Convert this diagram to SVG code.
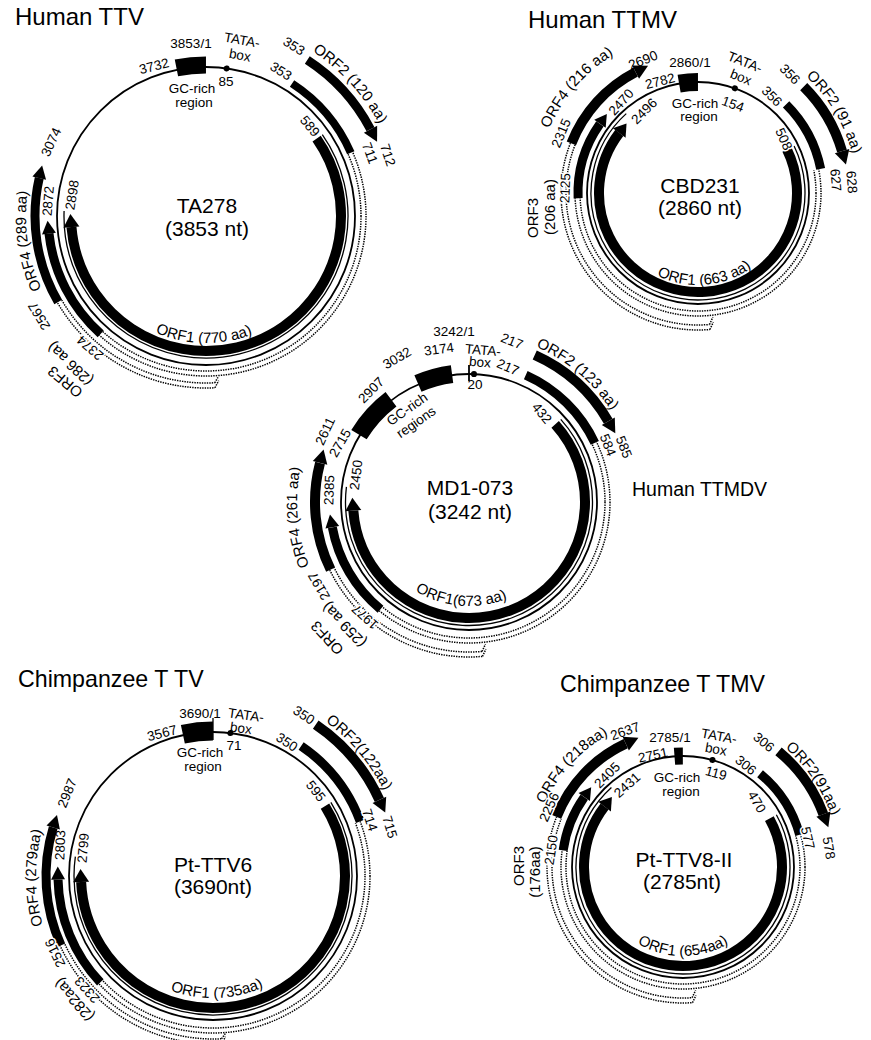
<svg xmlns="http://www.w3.org/2000/svg" width="871" height="1040" viewBox="0 0 871 1040">
<style>
text{font-family:"Liberation Sans",Arial,Helvetica,sans-serif;fill:#000}
.n{font-size:13.5px;text-anchor:middle}
.o{font-size:15px;text-anchor:middle}
.c{font-size:21px;text-anchor:middle}
.ti{font-size:24px}
.h{stroke:#fff;stroke-width:3;paint-order:stroke}
.k{fill:none;stroke:#000}
.gn{stroke-width:1.8}
.th{stroke-width:1.3}
.dt{stroke-width:1.5;stroke-dasharray:1.4 1.1}
.mk{fill:none;stroke:#fff;stroke-width:3.4}
</style>
<defs>
<path id="cw196" d="M0,196 A196,196 0 1 1 0,-196 A196,196 0 1 1 0,196"/>
<path id="cw180" d="M0,180 A180,180 0 1 1 0,-180 A180,180 0 1 1 0,180"/>
<path id="ccw127" d="M0,-127 A127,127 0 1 0 0,127 A127,127 0 1 0 0,-127"/>
<path id="cw159" d="M0,159 A159,159 0 1 1 0,-159 A159,159 0 1 1 0,159"/>
<path id="cw162" d="M0,162 A162,162 0 1 1 0,-162 A162,162 0 1 1 0,162"/>
<path id="ccw92" d="M0,-92 A92,92 0 1 0 0,92 A92,92 0 1 0 0,-92"/>
<path id="cw169" d="M0,169 A169,169 0 1 1 0,-169 A169,169 0 1 1 0,169"/>
<path id="cw172" d="M0,172 A172,172 0 1 1 0,-172 A172,172 0 1 1 0,172"/>
<path id="ccw104" d="M0,-104 A104,104 0 1 0 0,104 A104,104 0 1 0 0,-104"/>
<path id="cw191" d="M0,191 A191,191 0 1 1 0,-191 A191,191 0 1 1 0,191"/>
<path id="cw177" d="M0,177 A177,177 0 1 1 0,-177 A177,177 0 1 1 0,177"/>
<path id="ccw122" d="M0,-122 A122,122 0 1 0 0,122 A122,122 0 1 0 0,-122"/>
<path id="cw157" d="M0,157 A157,157 0 1 1 0,-157 A157,157 0 1 1 0,157"/>
<path id="cw152" d="M0,152 A152,152 0 1 1 0,-152 A152,152 0 1 1 0,152"/>
<path id="ccw89" d="M0,-89 A89,89 0 1 0 0,89 A89,89 0 1 0 0,-89"/>
<mask id="m1" maskUnits="userSpaceOnUse" x="-300" y="-300" width="600" height="600">
<circle class="mk" r="155" pathLength="360" stroke-dasharray="155.4 999" transform="rotate(-23.6)"/>
<circle class="mk" r="160" pathLength="360" stroke-dasharray="155.4 999" transform="rotate(-23.6)"/>
<circle class="mk" r="167" pathLength="360" stroke-dasharray="62.8 999" transform="rotate(87)"/>
<circle class="mk" r="172" pathLength="360" stroke-dasharray="62.8 999" transform="rotate(87)"/>
</mask>
<mask id="m2" maskUnits="userSpaceOnUse" x="-300" y="-300" width="600" height="600">
<circle class="mk" r="118" pathLength="360" stroke-dasharray="188.56 999" transform="rotate(-11.08)"/>
<circle class="mk" r="123" pathLength="360" stroke-dasharray="188.56 999" transform="rotate(-11.08)"/>
<circle class="mk" r="132" pathLength="360" stroke-dasharray="116.4 999" transform="rotate(85)"/>
<circle class="mk" r="137" pathLength="360" stroke-dasharray="116.4 999" transform="rotate(85)"/>
</mask>
<mask id="m3" maskUnits="userSpaceOnUse" x="-300" y="-300" width="600" height="600">
<circle class="mk" r="136" pathLength="360" stroke-dasharray="154.68 999" transform="rotate(-25.15)"/>
<circle class="mk" r="141" pathLength="360" stroke-dasharray="154.68 999" transform="rotate(-25.15)"/>
<circle class="mk" r="150" pathLength="360" stroke-dasharray="68.96 999" transform="rotate(85)"/>
<circle class="mk" r="155" pathLength="360" stroke-dasharray="68.96 999" transform="rotate(85)"/>
</mask>
<mask id="m4" maskUnits="userSpaceOnUse" x="-300" y="-300" width="600" height="600">
<circle class="mk" r="152" pathLength="360" stroke-dasharray="156.97 999" transform="rotate(-20.34)"/>
<circle class="mk" r="157" pathLength="360" stroke-dasharray="156.97 999" transform="rotate(-20.34)"/>
<circle class="mk" r="163" pathLength="360" stroke-dasharray="68.46 999" transform="rotate(87)"/>
<circle class="mk" r="168" pathLength="360" stroke-dasharray="68.46 999" transform="rotate(87)"/>
</mask>
<mask id="m5" maskUnits="userSpaceOnUse" x="-300" y="-300" width="600" height="600">
<circle class="mk" r="117" pathLength="360" stroke-dasharray="203.34 999" transform="rotate(-15.42)"/>
<circle class="mk" r="122" pathLength="360" stroke-dasharray="203.34 999" transform="rotate(-15.42)"/>
<circle class="mk" r="131" pathLength="360" stroke-dasharray="115.62 999" transform="rotate(86)"/>
<circle class="mk" r="136" pathLength="360" stroke-dasharray="115.62 999" transform="rotate(86)"/>
</mask>
</defs>
<rect width="871" height="1040" fill="#fff"/>

<!-- Diagram 1: Human TTV -->
<g id="human-ttv">
<g transform="translate(206,216)">
<circle class="k gn" r="149"/>
<circle class="k" r="151" stroke-width="17" pathLength="360" stroke-dasharray="11.3 999" transform="rotate(258.7)"/>
<circle r="3" cy="-149" transform="rotate(7.94)"/>
<circle class="k" r="135" stroke-width="10" pathLength="360" stroke-dasharray="210.3 999" transform="rotate(-34.97)"/>
<polygon points="0,-143 13,-135 0,-127" transform="rotate(265.3)"/>
<circle class="k th" r="142" pathLength="360" stroke-dasharray="217 999" transform="rotate(-35)"/>
<circle class="k" r="158" stroke-width="8" pathLength="360" stroke-dasharray="33.4 999" transform="rotate(-57)"/>
<circle class="k" r="186" stroke-width="9" pathLength="360" stroke-dasharray="29.2 999" transform="rotate(-57)"/>
<polygon points="0,-193.5 14,-186 0,-178.5" transform="rotate(62.2)"/>
<circle class="k" r="158" stroke-width="9" pathLength="360" stroke-dasharray="41.8 999" transform="rotate(131.8)"/>
<polygon points="0,-165 13,-158 0,-151" transform="rotate(263.6)"/>
<circle class="k" r="171" stroke-width="9" pathLength="360" stroke-dasharray="43 999" transform="rotate(149.8)"/>
<polygon points="0,-178 13,-171 0,-164" transform="rotate(282.8)"/>
<g mask="url(#m1)">
<circle class="k dt" r="155"/><circle class="k dt" r="160"/><circle class="k dt" r="167"/><circle class="k dt" r="172"/>
</g>
<path class="k dt" d="M0,-172 L-4,-165 M0,-167 L-4,-161" transform="rotate(177)"/>
<text class="o" transform="rotate(47.5)"><textPath href="#cw196" startOffset="50%">ORF2 (120 aa)</textPath></text>
<text class="o" transform="rotate(262)"><textPath href="#cw180" startOffset="50%">ORF4 (289 aa)</textPath></text>
<text class="o" transform="rotate(1)"><textPath href="#ccw127" startOffset="50%">ORF1 (770 aa)</textPath></text>
</g>
<text class="ti" x="15" y="25">Human TTV</text>
<text class="n" x="191" y="48">3853/1</text>
<text class="n" transform="translate(242,40) rotate(10)" dy=".35em">TATA-</text>
<text class="n" transform="translate(240,55) rotate(10)" dy=".35em">box</text>
<text class="n" x="226" y="86">85</text>
<text class="n" transform="translate(154,66) rotate(-14)" dy=".35em">3732</text>
<text class="n" x="192" y="93">GC-rich</text>
<text class="n" x="194" y="107">region</text>
<text class="n" transform="translate(294,46) rotate(32)" dy=".35em">353</text>
<text class="n" transform="translate(281,71) rotate(32)" dy=".35em">353</text>
<text class="n" transform="translate(310,126) rotate(50)" dy=".35em">589</text>
<text class="n h" transform="translate(370,153) rotate(70)" dy=".35em">711</text>
<text class="n" transform="translate(388,155) rotate(72)" dy=".35em">712</text>
<text class="n" transform="translate(51,142) rotate(-65)" dy=".35em">3074</text>
<text class="n" transform="translate(48,201) rotate(-85)" dy=".35em">2872</text>
<text class="n" transform="translate(72,195) rotate(-81)" dy=".35em">2898</text>
<text class="n h" transform="translate(39,316) rotate(239)" dy=".35em">2567</text>
<text class="n h" transform="translate(90,348) rotate(221)" dy=".35em">2374</text>
<text class="o" transform="translate(70,364) rotate(223)" dy=".35em">(286 aa)</text>
<text class="o" transform="translate(65,382) rotate(220)" dy=".35em">ORF3</text>
<text class="c" x="207" y="213">TA278</text>
<text class="c" x="207" y="236">(3853 nt)</text>
</g>

<!-- Diagram 2: Human TTMV -->
<g id="human-ttmv">
<g transform="translate(698,193)">
<circle class="k gn" r="111"/>
<circle class="k" r="111" stroke-width="18" pathLength="360" stroke-dasharray="9.8 999" transform="rotate(260.2)"/>
<circle r="3" cy="-111" transform="rotate(19.38)"/>
<circle class="k" r="99" stroke-width="10" pathLength="360" stroke-dasharray="243.4 999" transform="rotate(-26.06)"/>
<polygon points="0,-107 12,-99 0,-91" transform="rotate(307.3)"/>
<circle class="k th" r="107" pathLength="360" stroke-dasharray="254 999" transform="rotate(-26.1)"/>
<circle class="k" r="125" stroke-width="9" pathLength="360" stroke-dasharray="34.1 999" transform="rotate(-45.19)"/>
<circle class="k" r="150" stroke-width="10" pathLength="360" stroke-dasharray="29 999" transform="rotate(-45.19)"/>
<polygon points="0,-157.5 14,-150 0,-142.5" transform="rotate(73.8)"/>
<circle class="k" r="120" stroke-width="9" pathLength="360" stroke-dasharray="37.7 999" transform="rotate(177.48)"/>
<polygon points="0,-127 12,-120 0,-113" transform="rotate(305.2)"/>
<circle class="k" r="136" stroke-width="10" pathLength="360" stroke-dasharray="41.3 999" transform="rotate(201.4)"/>
<polygon points="0,-143.5 14,-136 0,-128.5" transform="rotate(332.7)"/>
<g mask="url(#m2)">
<circle class="k dt" r="118"/><circle class="k dt" r="123"/><circle class="k dt" r="132"/><circle class="k dt" r="137"/>
</g>
<path class="k dt" d="M0,-137 L-4,-130 M0,-132 L-4,-125" transform="rotate(175)"/>
<text class="o" transform="rotate(59.3)"><textPath href="#cw159" startOffset="50%">ORF2 (91 aa)</textPath></text>
<text class="o" transform="rotate(311)"><textPath href="#cw162" startOffset="50%">ORF4 (216 aa)</textPath></text>
<text class="o" transform="rotate(-4.5)"><textPath href="#ccw92" startOffset="50%">ORF1 (663 aa)</textPath></text>
</g>
<text class="ti" x="528" y="28">Human TTMV</text>
<text class="n" x="690" y="67">2860/1</text>
<text class="n" transform="translate(745,62) rotate(22)" dy=".35em">TATA-</text>
<text class="n" transform="translate(741,77) rotate(22)" dy=".35em">box</text>
<text class="n" transform="translate(733,104) rotate(20)" dy=".35em">154</text>
<text class="n" transform="translate(660,81) rotate(-14)" dy=".35em">2782</text>
<text class="n" x="695" y="108">GC-rich</text>
<text class="n" x="699" y="121">region</text>
<text class="n" transform="translate(790,74) rotate(45)" dy=".35em">356</text>
<text class="n" transform="translate(772,96) rotate(45)" dy=".35em">356</text>
<text class="n h" transform="translate(784,139) rotate(65)" dy=".35em">508</text>
<text class="n h" transform="translate(836,180) rotate(85)" dy=".35em">627</text>
<text class="n" transform="translate(852,182) rotate(85)" dy=".35em">628</text>
<text class="n" transform="translate(643,60) rotate(-22)" dy=".35em">2690</text>
<text class="n" transform="translate(621,102) rotate(-48)" dy=".35em">2470</text>
<text class="n" transform="translate(644,111) rotate(-45)" dy=".35em">2496</text>
<text class="n" transform="translate(561,133) rotate(-67)" dy=".35em">2315</text>
<text class="n h" transform="translate(565,188) rotate(-88)" dy=".35em">2125</text>
<text class="o" transform="translate(533,218) rotate(-90)" dy=".35em">ORF3</text>
<text class="o" transform="translate(550,207) rotate(-90)" dy=".35em">(206 aa)</text>
<text class="c" x="700" y="193">CBD231</text>
<text class="c" x="700" y="215">(2860 nt)</text>
</g>

<!-- Diagram 3: Human TTMDV -->
<g id="human-ttmdv">
<g transform="translate(469,502)">
<circle class="k gn" r="128"/>
<line class="k gn" x1="0" y1="-121" x2="0" y2="-137"/>
<circle class="k" r="129" stroke-width="18" pathLength="360" stroke-dasharray="15.77 999" transform="rotate(246.68)"/>
<circle class="k" r="129" stroke-width="18" pathLength="360" stroke-dasharray="21.32 999" transform="rotate(211.48)"/>
<circle r="3" cy="-128" transform="rotate(2.22)"/>
<circle class="k" r="116" stroke-width="10" pathLength="360" stroke-dasharray="217.73 999" transform="rotate(-42.03)"/>
<polygon points="0,-124 13,-116 0,-108" transform="rotate(265.7)"/>
<circle class="k th" r="123.5" pathLength="360" stroke-dasharray="229 999" transform="rotate(-42)"/>
<circle class="k" r="139" stroke-width="9" pathLength="360" stroke-dasharray="40.75 999" transform="rotate(-65.9)"/>
<circle class="k" r="161" stroke-width="10" pathLength="360" stroke-dasharray="35.8 999" transform="rotate(-65.9)"/>
<polygon points="0,-168.5 14,-161 0,-153.5" transform="rotate(59.9)"/>
<circle class="k" r="139" stroke-width="9" pathLength="360" stroke-dasharray="39.97 999" transform="rotate(129.53)"/>
<polygon points="0,-146 13,-139 0,-132" transform="rotate(259.5)"/>
<circle class="k" r="154" stroke-width="10" pathLength="360" stroke-dasharray="40.74 999" transform="rotate(153.96)"/>
<polygon points="0,-161.5 14,-154 0,-146.5" transform="rotate(284.7)"/>
<g mask="url(#m3)">
<circle class="k dt" r="136"/><circle class="k dt" r="141"/><circle class="k dt" r="150"/><circle class="k dt" r="155"/>
</g>
<path class="k dt" d="M0,-155 L-4,-148 M0,-150 L-4,-143" transform="rotate(175)"/>
<text class="o" transform="rotate(40.3)"><textPath href="#cw169" startOffset="50%">ORF2 (123 aa)</textPath></text>
<text class="o" transform="rotate(264.8)"><textPath href="#cw172" startOffset="50%">ORF4 (261 aa)</textPath></text>
<text class="o" transform="rotate(4.8)"><textPath href="#ccw104" startOffset="50%">ORF1(673 aa)</textPath></text>
</g>
<text class="n" x="454" y="336">3242/1</text>
<text class="n" transform="translate(439,349) rotate(-8)" dy=".35em">3174</text>
<text class="n" transform="translate(483,350) rotate(5)" dy=".35em">TATA-</text>
<text class="n" transform="translate(480,362) rotate(5)" dy=".35em">box</text>
<text class="n" x="475" y="389">20</text>
<text class="n" transform="translate(512,341) rotate(22)" dy=".35em">217</text>
<text class="n" transform="translate(508,367) rotate(24)" dy=".35em">217</text>
<text class="n" transform="translate(397,358) rotate(-30)" dy=".35em">3032</text>
<text class="n" transform="translate(371,390) rotate(-45)" dy=".35em">2907</text>
<text class="n" transform="translate(407,409) rotate(-35)" dy=".35em">GC-rich</text>
<text class="n" transform="translate(416,422) rotate(-35)" dy=".35em">regions</text>
<text class="n" transform="translate(325,431) rotate(-65)" dy=".35em">2611</text>
<text class="n" transform="translate(340,443) rotate(-60)" dy=".35em">2715</text>
<text class="n" transform="translate(329,490) rotate(-88)" dy=".35em">2385</text>
<text class="n" transform="translate(356,475) rotate(-83)" dy=".35em">2450</text>
<text class="n" transform="translate(542,413) rotate(50)" dy=".35em">432</text>
<text class="n h" transform="translate(608,445) rotate(68)" dy=".35em">584</text>
<text class="n" transform="translate(624,447) rotate(68)" dy=".35em">585</text>
<text class="n h" transform="translate(319,586) rotate(240)" dy=".35em">2197</text>
<text class="n h" transform="translate(365,617) rotate(222)" dy=".35em">1977</text>
<text class="o" transform="translate(344,625) rotate(226)" dy=".35em">(259 aa)</text>
<text class="o" transform="translate(327,638) rotate(227)" dy=".35em">ORF3</text>
<text class="c" x="470" y="495">MD1-073</text>
<text class="c" x="470" y="519">(3242 nt)</text>
<text class="ti" x="632" y="496" style="font-size:19.5px">Human TTMDV</text>
</g>

<!-- Diagram 4: Chimpanzee TTV -->
<g id="chimp-ttv">
<g transform="translate(213,876)">
<circle class="k gn" r="144"/>
<circle class="k" r="145" stroke-width="19" pathLength="360" stroke-dasharray="12 999" transform="rotate(258)"/>
<line class="k th" x1="0" y1="-136" x2="0" y2="-158"/>
<circle r="3" cy="-144" transform="rotate(6.93)"/>
<circle class="k" r="132" stroke-width="10" pathLength="360" stroke-dasharray="209.35 999" transform="rotate(-31.95)"/>
<polygon points="0,-140 13,-132 0,-124" transform="rotate(267.4)"/>
<circle class="k th" r="139" pathLength="360" stroke-dasharray="220 999" transform="rotate(-32)"/>
<circle class="k" r="157" stroke-width="9" pathLength="360" stroke-dasharray="35.51 999" transform="rotate(-55.85)"/>
<circle class="k" r="183" stroke-width="10" pathLength="360" stroke-dasharray="31.25 999" transform="rotate(-55.85)"/>
<polygon points="0,-190.5 14,-183 0,-175.5" transform="rotate(65.4)"/>
<circle class="k" r="155" stroke-width="9" pathLength="360" stroke-dasharray="42.07 999" transform="rotate(136.63)"/>
<polygon points="0,-162 13,-155 0,-148" transform="rotate(268.7)"/>
<circle class="k" r="167" stroke-width="9" pathLength="360" stroke-dasharray="41.44 999" transform="rotate(155.46)"/>
<polygon points="0,-174 13,-167 0,-160" transform="rotate(286.9)"/>
<g mask="url(#m4)">
<circle class="k dt" r="152"/><circle class="k dt" r="157"/><circle class="k dt" r="163"/><circle class="k dt" r="168"/>
</g>
<path class="k dt" d="M0,-168 L-4,-161 M0,-163 L-4,-158" transform="rotate(177)"/>
<text class="o" transform="rotate(49.8)"><textPath href="#cw191" startOffset="50%">ORF2(122aa)</textPath></text>
<text class="o" transform="rotate(269.4)"><textPath href="#cw177" startOffset="50%">ORF4 (279aa)</textPath></text>
<text class="o" transform="rotate(-2)"><textPath href="#ccw122" startOffset="50%">ORF1 (735aa)</textPath></text>
</g>
<text class="ti" x="18" y="687" style="font-size:23.2px">Chimpanzee T TV</text>
<text class="n" x="200" y="718">3690/1</text>
<text class="n" transform="translate(246,715) rotate(8)" dy=".35em">TATA-</text>
<text class="n" transform="translate(241,728) rotate(8)" dy=".35em">box</text>
<text class="n" x="234" y="750">71</text>
<text class="n" transform="translate(162,733) rotate(-14)" dy=".35em">3567</text>
<text class="n" x="200" y="757">GC-rich</text>
<text class="n" x="203" y="771">region</text>
<text class="n" transform="translate(304,715) rotate(33)" dy=".35em">350</text>
<text class="n" transform="translate(287,742) rotate(33)" dy=".35em">350</text>
<text class="n" transform="translate(316,791) rotate(52)" dy=".35em">595</text>
<text class="n h" transform="translate(370,820) rotate(72)" dy=".35em">714</text>
<text class="n" transform="translate(390,827) rotate(73)" dy=".35em">715</text>
<text class="n" transform="translate(67,793) rotate(-68)" dy=".35em">2987</text>
<text class="n" transform="translate(60,845) rotate(-88)" dy=".35em">2803</text>
<text class="n" transform="translate(83,848) rotate(-85)" dy=".35em">2799</text>
<text class="n h" transform="translate(55,953) rotate(244)" dy=".35em">2516</text>
<text class="n h" transform="translate(87,990) rotate(228)" dy=".35em">2323</text>
<text class="o" transform="translate(74,1000) rotate(229)" dy=".35em">(282aa)</text>
<text class="c" x="213" y="872">Pt-TTV6</text>
<text class="c" x="213" y="894">(3690nt)</text>
</g>

<!-- Diagram 5: Chimpanzee TTMV -->
<g id="chimp-ttmv">
<g transform="translate(683,867)">
<circle class="k gn" r="111"/>
<circle class="k" r="111" stroke-width="17" pathLength="360" stroke-dasharray="4.39 999" transform="rotate(265.61)"/>
<circle r="3" cy="-111" transform="rotate(15.38)"/>
<circle class="k" r="99" stroke-width="10" pathLength="360" stroke-dasharray="246.85 999" transform="rotate(-29.25)"/>
<polygon points="0,-107 12,-99 0,-91" transform="rotate(307.6)"/>
<circle class="k th" r="107" pathLength="360" stroke-dasharray="257.25 999" transform="rotate(-29.25)"/>
<circle class="k" r="121" stroke-width="9" pathLength="360" stroke-dasharray="35.02 999" transform="rotate(-50.44)"/>
<circle class="k" r="150" stroke-width="10" pathLength="360" stroke-dasharray="29.84 999" transform="rotate(-50.44)"/>
<polygon points="0,-157.5 14,-150 0,-142.5" transform="rotate(69.4)"/>
<circle class="k" r="121" stroke-width="9" pathLength="360" stroke-dasharray="27.38 999" transform="rotate(187.92)"/>
<polygon points="0,-128 12,-121 0,-114" transform="rotate(305.3)"/>
<circle class="k" r="136" stroke-width="10" pathLength="360" stroke-dasharray="43.48 999" transform="rotate(201.62)"/>
<polygon points="0,-143.5 14,-136 0,-128.5" transform="rotate(335.1)"/>
<g mask="url(#m5)">
<circle class="k dt" r="117"/><circle class="k dt" r="122"/><circle class="k dt" r="131"/><circle class="k dt" r="136"/>
</g>
<path class="k dt" d="M0,-136 L-4,-129 M0,-131 L-4,-124" transform="rotate(176)"/>
<text class="o" transform="rotate(55.8)"><textPath href="#cw157" startOffset="50%">ORF2(91aa)</textPath></text>
<text class="o" transform="rotate(312.5)"><textPath href="#cw152" startOffset="50%">ORF4 (218aa)</textPath></text>
<text class="o" transform="rotate(0)"><textPath href="#ccw89" startOffset="50%">ORF1 (654aa)</textPath></text>
</g>
<text class="ti" x="560" y="692" style="font-size:23.2px">Chimpanzee T TMV</text>
<text class="n" x="670" y="742">2785/1</text>
<text class="n" transform="translate(653,755) rotate(-12)" dy=".35em">2751</text>
<text class="n" transform="translate(719,736) rotate(10)" dy=".35em">TATA-</text>
<text class="n" transform="translate(716,749) rotate(10)" dy=".35em">box</text>
<text class="n" transform="translate(716,773) rotate(15)" dy=".35em">119</text>
<text class="n" x="677" y="782">GC-rich</text>
<text class="n" x="681" y="796">region</text>
<text class="n" transform="translate(764,742) rotate(40)" dy=".35em">306</text>
<text class="n" transform="translate(746,765) rotate(40)" dy=".35em">306</text>
<text class="n h" transform="translate(757,802) rotate(60)" dy=".35em">470</text>
<text class="n h" transform="translate(808,838) rotate(77)" dy=".35em">577</text>
<text class="n" transform="translate(829,848) rotate(80)" dy=".35em">578</text>
<text class="n" transform="translate(625,731) rotate(-20)" dy=".35em">2637</text>
<text class="n" transform="translate(607,775) rotate(-45)" dy=".35em">2405</text>
<text class="n" transform="translate(627,785) rotate(-42)" dy=".35em">2431</text>
<text class="n h" transform="translate(549,807) rotate(-66)" dy=".35em">2256</text>
<text class="n h" transform="translate(551,850) rotate(-82)" dy=".35em">2150</text>
<text class="o" transform="translate(519,866) rotate(-90)" dy=".35em">ORF3</text>
<text class="o" transform="translate(535,872) rotate(-90)" dy=".35em">(176aa)</text>
<text class="c" x="684" y="867">Pt-TTV8-II</text>
<text class="c" x="682" y="889">(2785nt)</text>
</g>
</svg>
